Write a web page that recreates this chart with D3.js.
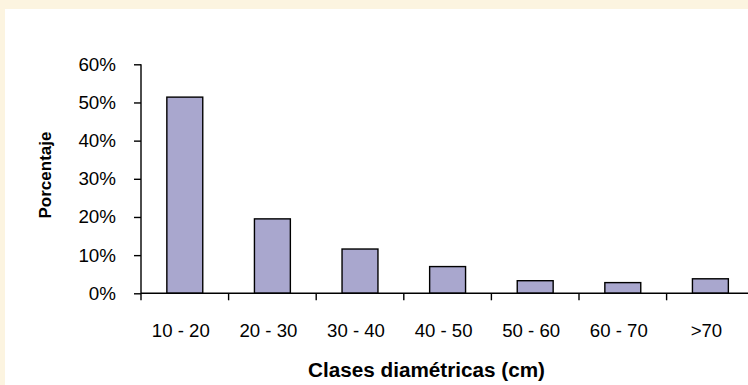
<!DOCTYPE html>
<html>
<head>
<meta charset="utf-8">
<script src="https://cdn.jsdelivr.net/npm/d3@7"></script>
<style>
  html, body { margin: 0; padding: 0; background: #fcf4e0; }
  svg { display: block; }
</style>
</head>
<body>
<svg id="chart" width="748" height="385"></svg>
<script>
const categories = ["10 - 20", "20 - 30", "30 - 40", "40 - 50", "50 - 60", "60 - 70", ">70"];
const values = [0.514, 0.195, 0.116, 0.070, 0.033, 0.028, 0.038];
const yTicks = [0, 0.1, 0.2, 0.3, 0.4, 0.5, 0.6];
const yTitle = "Porcentaje";
const xTitle = "Clases diamétricas (cm)";

const svg = d3.select("#chart");
const font = "'Liberation Sans', Arial, Helvetica, sans-serif";

svg.append("rect").attr("x", 0).attr("y", 0).attr("width", 748).attr("height", 385).attr("fill", "#fcf4e0");
svg.append("rect").attr("x", 5).attr("y", 9).attr("width", 743).attr("height", 376).attr("fill", "#ffffff");

const x = d3.scaleBand().domain(categories).range([141, 754.2]).padding(0);
const y = d3.scaleLinear().domain([0, 0.6]).range([293.3, 64.3]);

const barW = x.bandwidth() * 0.41;

// bars
svg.append("g").selectAll("rect").data(values).join("rect")
  .attr("x", (d, i) => x(categories[i]) + x.bandwidth() / 2 - barW / 2)
  .attr("y", d => y(d))
  .attr("width", barW)
  .attr("height", d => y(0) - y(d))
  .attr("fill", "#a9a7ce")
  .attr("stroke", "#000")
  .attr("stroke-width", 1.4);

// y axis
const yAxis = d3.axisLeft(y).tickValues(yTicks).tickFormat(d3.format(".0%")).tickSize(7).tickPadding(18);
const gy = svg.append("g").attr("transform", "translate(141,0)").call(yAxis);
gy.select(".domain").attr("stroke", "#000").attr("stroke-width", 1.4).attr("d", `M0,${y(0.6)}V${y(0)}`);
gy.selectAll(".tick line").attr("stroke", "#000").attr("stroke-width", 1.4);
gy.selectAll(".tick text").attr("font-family", font).attr("font-size", 18.8).attr("fill", "#000");

// x axis (ticks at band boundaries)
const boundaries = categories.map(c => x(c)).concat([x.range()[1]]);
const gx = svg.append("g").attr("transform", `translate(0,${y(0)})`);
gx.append("line").attr("x1", 141).attr("x2", 748).attr("y1", 0).attr("y2", 0)
  .attr("stroke", "#000").attr("stroke-width", 1.4);
gx.selectAll("line.tk").data(boundaries).join("line").attr("class", "tk")
  .attr("x1", d => d).attr("x2", d => d).attr("y1", 0).attr("y2", 7)
  .attr("stroke", "#000").attr("stroke-width", 1.4);
gx.selectAll("text").data(categories).join("text")
  .attr("x", d => x(d) + x.bandwidth() / 2 - 4)
  .attr("y", 43.5)
  .attr("text-anchor", "middle")
  .attr("font-family", font).attr("font-size", 18.6).attr("fill", "#000")
  .text(d => d);

// titles
svg.append("text")
  .attr("transform", "translate(51,175) rotate(-90)")
  .attr("text-anchor", "middle")
  .attr("font-family", font).attr("font-size", 17).attr("font-weight", "bold")
  .text(yTitle);

svg.append("text")
  .attr("x", 426.5).attr("y", 377)
  .attr("text-anchor", "middle")
  .attr("font-family", font).attr("font-size", 20.7).attr("font-weight", "bold")
  .text(xTitle);
</script>
</body>
</html>
